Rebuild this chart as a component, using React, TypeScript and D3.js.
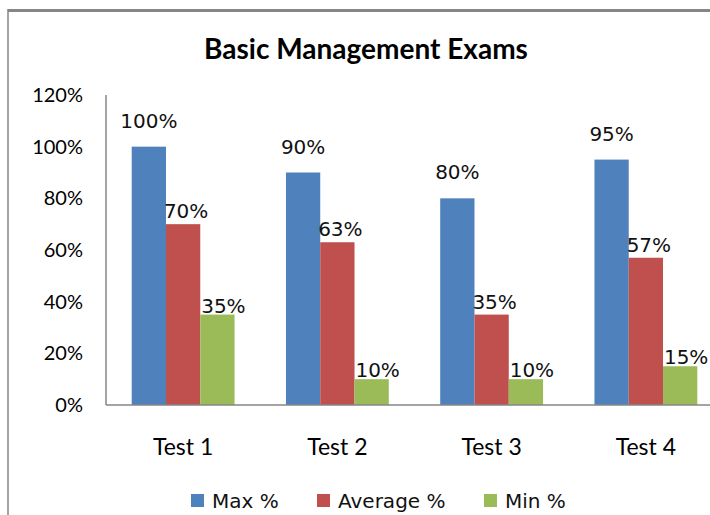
import { useEffect, useRef } from "react";
import * as d3 from "d3";

const tests = ["Test 1", "Test 2", "Test 3", "Test 4"];
const seriesNames = ["Max %", "Average %", "Min %"];
const maxScores = [1.0, 0.9, 0.8, 0.95];
const avgScores = [0.7, 0.63, 0.35, 0.57];
const minScores = [0.35, 0.1, 0.1, 0.15];
const yTicks = [0, 0.2, 0.4, 0.6, 0.8, 1.0, 1.2];

const colors = ["#4F81BD", "#C0504D", "#9BBB59"];
// label nudges per series (the original has labels floating a bit differently)
const labelDy = [-19, -6, -2];
const labelDx = [0, 3, 6];

export default function App() {
  const svgRef = useRef<SVGSVGElement>(null);

  useEffect(() => {
    const svg = d3.select(svgRef.current);
    svg.selectAll("*").remove();

    const width = 710;
    const height = 515;
    const plot = { left: 106, right: 723, top: 95, bottom: 405 };

    svg.attr("width", width).attr("height", height);

    svg.append("rect").attr("width", width).attr("height", height).attr("fill", "#fff");

    // outer chart border (only top and left visible)
    svg.append("line").attr("x1", 8).attr("x2", width).attr("y1", 10.5).attr("y2", 10.5)
      .attr("stroke", "#868686").attr("stroke-width", 3);
    svg.append("line").attr("x1", 8).attr("x2", 8).attr("y1", 9).attr("y2", height)
      .attr("stroke", "#868686").attr("stroke-width", 1.5);

    svg.append("text")
      .attr("x", 366).attr("y", 59)
      .attr("text-anchor", "middle")
      .attr("font-family", "Lato, 'Open Sans', sans-serif")
      .attr("font-weight", "bold")
      .attr("font-size", 28)
      .attr("fill", "#000")
      .text("Basic Management Exams");

    const x0 = d3.scaleBand<string>()
      .domain(tests)
      .range([plot.left, plot.right])
      .paddingInner(1 / 3)
      .paddingOuter(1 / 6);

    const x1 = d3.scaleBand<string>()
      .domain(seriesNames)
      .range([0, x0.bandwidth()]);

    const y = d3.scaleLinear().domain([0, 1.2]).range([plot.bottom, plot.top]);
    const pct = d3.format(".0%");

    // y tick labels
    svg.append("g")
      .selectAll("text")
      .data(yTicks)
      .enter()
      .append("text")
      .attr("x", 83)
      .attr("y", (d) => y(d) + 7)
      .attr("text-anchor", "end")
      .attr("font-family", "Lato, sans-serif")
      .attr("font-size", 20)
      .attr("fill", "#000")
      .text((d) => pct(d));

    const rows = tests.map((t, i) => ({
      test: t,
      values: [maxScores[i], avgScores[i], minScores[i]],
    }));

    const groups = svg.append("g")
      .selectAll("g")
      .data(rows)
      .enter()
      .append("g")
      .attr("transform", (d) => `translate(${x0(d.test)},0)`);

    groups.selectAll("rect")
      .data((d) => d.values.map((v, k) => ({ v, k })))
      .enter()
      .append("rect")
      .attr("x", (d) => x1(seriesNames[d.k])!)
      .attr("y", (d) => y(d.v))
      .attr("width", x1.bandwidth())
      .attr("height", (d) => y(0) - y(d.v))
      .attr("fill", (d) => colors[d.k]);

    groups.selectAll("text")
      .data((d) => d.values.map((v, k) => ({ v, k })))
      .enter()
      .append("text")
      .attr("x", (d) => x1(seriesNames[d.k])! + x1.bandwidth() / 2 + labelDx[d.k])
      .attr("y", (d) => y(d.v) + labelDy[d.k])
      .attr("text-anchor", "middle")
      .attr("font-family", "'DejaVu Sans', sans-serif")
      .attr("font-size", 20)
      .attr("fill", "#111")
      .text((d) => pct(d.v));

    // axes lines
    svg.append("line").attr("x1", plot.left).attr("x2", plot.left)
      .attr("y1", plot.top).attr("y2", plot.bottom)
      .attr("stroke", "#868686").attr("stroke-width", 1.5);
    svg.append("line").attr("x1", plot.left).attr("x2", plot.right)
      .attr("y1", plot.bottom).attr("y2", plot.bottom)
      .attr("stroke", "#868686").attr("stroke-width", 1.5);

    // category labels
    svg.append("g")
      .selectAll("text")
      .data(tests)
      .enter()
      .append("text")
      .attr("x", (d) => x0(d)! + x0.bandwidth() / 2)
      .attr("y", 455)
      .attr("text-anchor", "middle")
      .attr("font-family", "Lato, sans-serif")
      .attr("font-size", 23)
      .attr("fill", "#000")
      .text((d) => d);

    // legend
    const legendX = [191, 317, 484];
    const legend = svg.append("g")
      .selectAll("g")
      .data(seriesNames)
      .enter()
      .append("g")
      .attr("transform", (d, i) => `translate(${legendX[i]},494)`);
    legend.append("rect").attr("width", 13).attr("height", 13).attr("fill", (d, i) => colors[i]);
    legend.append("text")
      .attr("x", 21)
      .attr("y", 14)
      .attr("font-family", "'DejaVu Sans', sans-serif")
      .attr("font-size", 20)
      .attr("fill", "#111")
      .text((d) => d);
  }, []);

  return (
    <div style={{ position: "absolute", left: 0, top: 0 }}>
      <svg ref={svgRef} style={{ display: "block" }}></svg>
    </div>
  );
}
